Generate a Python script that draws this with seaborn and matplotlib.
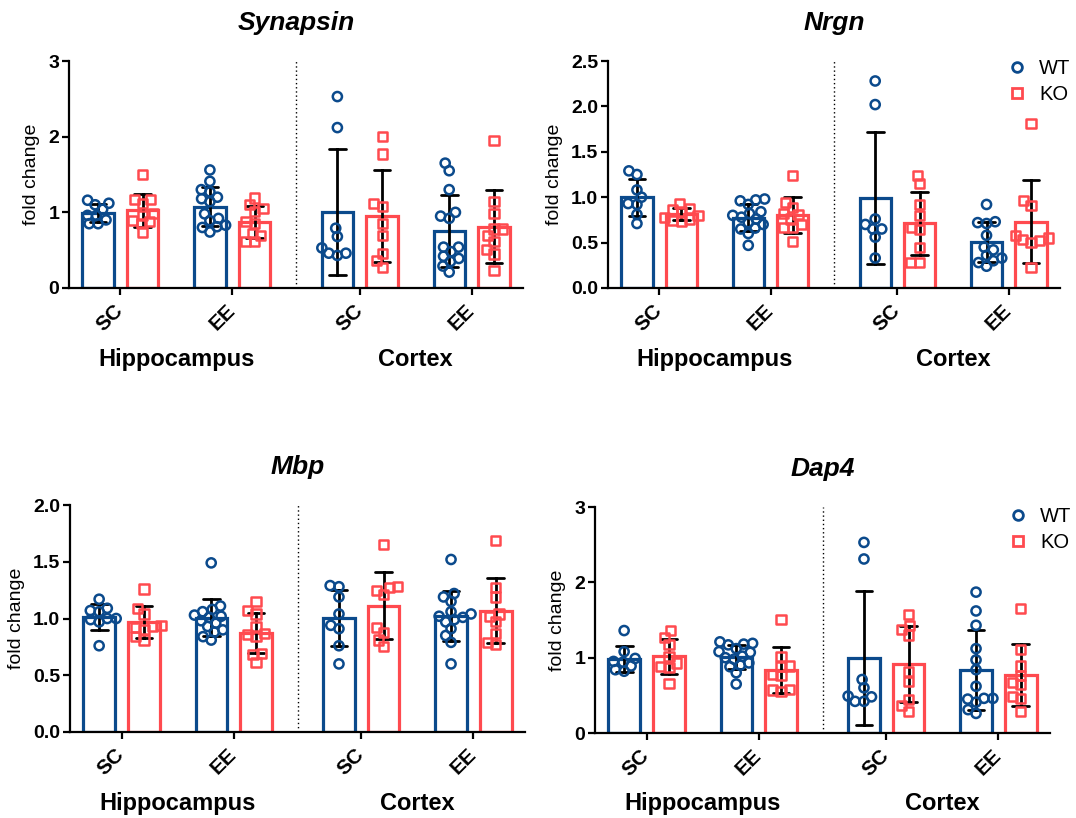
import numpy as np
import pandas as pd
import matplotlib
matplotlib.use("Agg")
import matplotlib.pyplot as plt
from matplotlib.lines import Line2D
import matplotlib.transforms as mtransforms
import seaborn as sns

# x positions of the four groups (Hippocampus SC/EE, Cortex SC/EE)
X_POS = [0.0, 1.0, 2.14, 3.14]
CONDITIONS = ["SC", "EE", "SC", "EE"]
REGIONS = ["Hippocampus", "Cortex"]
GENOTYPES = ["WT", "KO"]

# values per group, order: Hip-SC, Hip-EE, Ctx-SC, Ctx-EE
synapsin_wt = [
    [1.10, 1.12, 1.16, 1.04, 0.96, 0.96, 0.85, 0.85, 0.90],
    [1.56, 1.41, 1.30, 1.27, 1.20, 1.18, 1.14, 0.98, 0.92, 0.89, 0.83, 0.81, 0.80, 0.74],
    [2.53, 2.12, 0.79, 0.68, 0.53, 0.46, 0.46, 0.43],
    [1.65, 1.55, 1.30, 1.00, 0.95, 0.92, 0.54, 0.54, 0.48, 0.39, 0.42, 0.35, 0.21, 0.29],
]
synapsin_ko = [
    [1.50, 1.17, 1.17, 1.12, 0.98, 0.96, 0.89, 0.88, 0.85, 0.74],
    [1.10, 1.05, 1.19, 1.01, 0.88, 0.85, 0.61, 0.61, 0.69, 0.72],
    [2.00, 1.77, 1.12, 1.08, 0.85, 0.69, 0.46, 0.36, 0.27],
    [1.95, 1.14, 0.98, 0.78, 0.78, 0.69, 0.61, 0.51, 0.45, 0.23],
]
nrgn_wt = [
    [1.29, 1.25, 1.08, 1.00, 0.93, 0.92, 0.81, 0.71],
    [0.98, 0.97, 0.96, 0.92, 0.84, 0.82, 0.80, 0.78, 0.76, 0.72, 0.70, 0.66, 0.65, 0.60, 0.47],
    [2.28, 2.02, 0.76, 0.70, 0.65, 0.65, 0.56, 0.33],
    [0.92, 0.73, 0.72, 0.71, 0.58, 0.45, 0.42, 0.36, 0.33, 0.30, 0.28, 0.24],
]
nrgn_ko = [
    [0.93, 0.88, 0.86, 0.84, 0.80, 0.78, 0.76, 0.74, 0.73],
    [1.24, 0.94, 0.89, 0.82, 0.81, 0.76, 0.70, 0.67, 0.67, 0.51],
    [1.24, 1.15, 0.92, 0.80, 0.67, 0.64, 0.45, 0.28, 0.28],
    [1.81, 0.96, 0.91, 0.58, 0.55, 0.52, 0.50, 0.53, 0.23],
]
mbp_wt = [
    [1.17, 1.09, 1.07, 1.06, 1.00, 1.00, 0.99, 0.97, 0.76],
    [1.49, 1.11, 1.08, 1.06, 1.03, 1.02, 1.01, 0.98, 0.96, 0.93, 0.90, 0.88, 0.84, 0.81],
    [1.29, 1.28, 1.19, 1.04, 0.94, 0.91, 0.76, 0.60],
    [1.52, 1.22, 1.19, 1.15, 1.06, 1.04, 1.02, 1.01, 0.99, 0.97, 0.91, 0.85, 0.79, 0.60],
]
mbp_ko = [
    [1.26, 1.09, 1.04, 0.94, 0.93, 0.92, 0.90, 0.84, 0.81],
    [1.15, 1.07, 1.04, 0.93, 0.87, 0.86, 0.84, 0.69, 0.68, 0.61],
    [1.65, 1.28, 1.27, 1.25, 1.21, 0.92, 0.88, 0.81, 0.75],
    [1.69, 1.27, 1.19, 1.04, 1.02, 0.97, 0.87, 0.79, 0.77],
]
dap4_wt = [
    [1.36, 1.08, 0.99, 0.95, 0.94, 0.89, 0.84, 0.82],
    [1.21, 1.19, 1.18, 1.17, 1.12, 1.08, 1.07, 1.02, 1.00, 0.98, 0.93, 0.90, 0.88, 0.80, 0.65],
    [2.53, 2.31, 0.71, 0.60, 0.49, 0.48, 0.42, 0.42],
    [1.87, 1.62, 1.43, 1.12, 0.97, 0.84, 0.62, 0.46, 0.46, 0.45, 0.41, 0.31, 0.26],
]
dap4_ko = [
    [1.36, 1.27, 1.17, 1.01, 0.93, 0.88, 0.87, 0.66],
    [1.51, 1.01, 0.89, 0.88, 0.78, 0.76, 0.58, 0.57, 0.55],
    [1.57, 1.43, 1.37, 1.30, 0.82, 0.68, 0.45, 0.36, 0.29],
    [1.65, 1.11, 0.89, 0.76, 0.67, 0.64, 0.48, 0.46, 0.29],
]

synapsin_yticks = [0, 1, 2, 3]
nrgn_yticks = [0.0, 0.5, 1.0, 1.5, 2.0, 2.5]
mbp_yticks = [0.0, 0.5, 1.0, 1.5, 2.0]
dap4_yticks = [0, 1, 2, 3]

BLUE = "#0b4a8c"
RED = "#ff4a4f"
palette = {"WT": BLUE, "KO": RED}


def to_frame(wt, ko):
    rows = []
    for geno, groups in [("WT", wt), ("KO", ko)]:
        for pos, vals in zip(X_POS, groups):
            for v in vals:
                rows.append({"pos": pos, "geno": geno, "value": v})
    return pd.DataFrame(rows)


panels = [
    ("Synapsin", synapsin_wt, synapsin_ko, synapsin_yticks, "{:.0f}", None),
    ("Nrgn", nrgn_wt, nrgn_ko, nrgn_yticks, "{:.1f}", (0.86, 1.055)),
    ("Mbp", mbp_wt, mbp_ko, mbp_yticks, "{:.1f}", None),
    ("Dap4", dap4_wt, dap4_ko, dap4_yticks, "{:.0f}", (0.885, 1.045)),
]

# axes boxes in pixels: left, top, right, bottom
boxes = [
    (69, 61, 523, 288),
    (608, 61, 1060, 288),
    (70, 505, 525, 732),
    (595, 507, 1050, 733),
]

sns.set_style("ticks")
plt.rcParams["font.family"] = ["Liberation Sans", "DejaVu Sans"]
plt.rcParams.update({
    "text.color": "black",
    "axes.labelcolor": "black",
    "axes.edgecolor": "black",
    "xtick.color": "black",
    "ytick.color": "black",
})

W, H = 1076, 818
fig = plt.figure(figsize=(W / 100, H / 100), dpi=100)
axes = []

for (name, wt, ko, yticks, fmt, legend_at), (l, t, r, b) in zip(panels, boxes):
    ax = fig.add_axes([l / W, 1 - b / H, (r - l) / W, (b - t) / H])
    axes.append(ax)
    df = to_frame(wt, ko)

    sns.barplot(data=df, x="pos", y="value", hue="geno", hue_order=GENOTYPES,
                palette=palette, native_scale=True, dodge=True, width=0.8, gap=0.3,
                fill=False, linewidth=2.3, errorbar="sd", capsize=0.3,
                err_kws={"color": "black", "linewidth": 2.0}, legend=False, ax=ax)

    # swarm layout with small markers, so the points pack tightly like the original
    for geno, marker in [("WT", "o"), ("KO", "s")]:
        sns.swarmplot(data=df[df["geno"] == geno], x="pos", y="value", hue="geno",
                      hue_order=GENOTYPES, palette=palette, native_scale=True,
                      dodge=True, marker=marker, size=4.3, legend=False, ax=ax,
                      warn_thresh=1)
    for coll in ax.collections:
        fc = coll.get_facecolors()
        coll.set_edgecolors(fc)
        coll.set_facecolors("none")
        coll.set_linewidth(1.8)

    top = yticks[-1]
    ax.set_ylim(0, top)
    ax.set_xlim(-0.46, 3.60)
    ax.axvline(1.57, 0, 1, color="black", linestyle=(0, (1, 2)), linewidth=1.0)

    ax.set_yticks(yticks, [fmt.format(v) for v in yticks])
    ax.set_xticks(X_POS, CONDITIONS)
    ax.tick_params(axis="both", width=1.6, length=5, direction="out", colors="black")
    ax.tick_params(axis="y", labelsize=14, pad=2)
    ax.tick_params(axis="x", labelsize=15, pad=9)
    for lbl in ax.get_yticklabels():
        lbl.set_fontweight("bold")
    for lbl in ax.get_xticklabels():
        lbl.set_fontweight("bold")
        lbl.set_rotation(45)
        lbl.set_ha("right")
        lbl.set_va("center")
        lbl.set_rotation_mode("anchor")

    sns.despine(ax=ax)
    for side in ["left", "bottom"]:
        ax.spines[side].set_linewidth(1.6)
        ax.spines[side].set_color("black")

    ax.set_xlabel("")
    ax.set_ylabel("fold change", fontsize=14, labelpad=6)
    ax.set_title(name, fontsize=19, fontweight="bold", fontstyle="italic", pad=22)

    trans = mtransforms.blended_transform_factory(ax.transData, ax.transAxes)
    for i, region in enumerate(REGIONS):
        xc = (X_POS[2 * i] + X_POS[2 * i + 1]) / 2
        ax.text(xc, -0.313, region, transform=trans, ha="center", va="center",
                fontsize=17, fontweight="bold")

    if legend_at is not None:
        handles = [
            Line2D([], [], marker="o", linestyle="", markerfacecolor="none",
                   markeredgecolor=BLUE, markeredgewidth=2, markersize=7, label="WT"),
            Line2D([], [], marker="s", linestyle="", markerfacecolor="none",
                   markeredgecolor=RED, markeredgewidth=2, markersize=7, label="KO"),
        ]
        ax.legend(handles=handles, loc="upper left", bbox_to_anchor=legend_at,
                  frameon=False, fontsize=14.5, handlelength=1.0, handletextpad=0.6,
                  borderpad=0, labelspacing=0.35)

# compute the swarms once, then freeze them and draw the markers at full size
fig.canvas.draw()
for ax in axes:
    for coll in ax.collections:
        if "draw" in coll.__dict__:
            del coll.draw
        coll.set_sizes([6.6 ** 2])

fig.savefig("out.png", dpi=100)
